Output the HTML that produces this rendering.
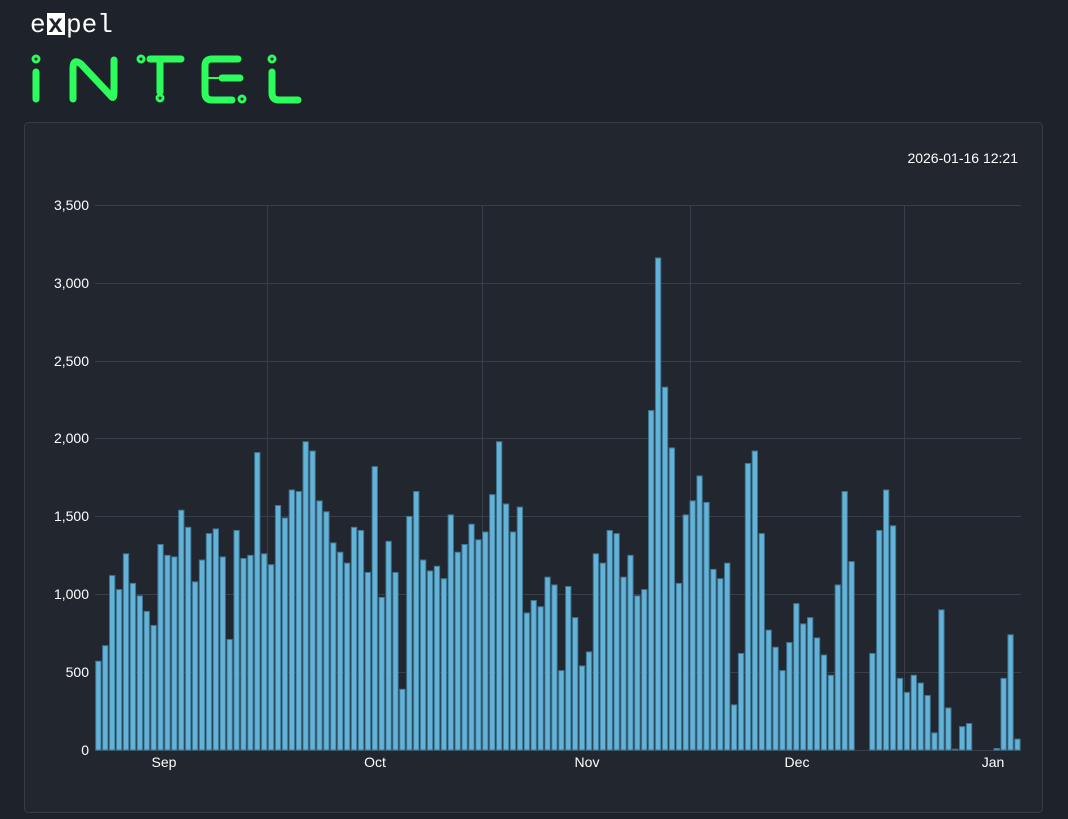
<!DOCTYPE html>
<html><head><meta charset="utf-8"><style>
body{margin:0;background:#1e222a;width:1068px;height:819px;overflow:hidden;font-family:"Liberation Sans",sans-serif;}
</style></head><body>
<svg width="1068" height="819" xmlns="http://www.w3.org/2000/svg" style="position:absolute;left:0;top:0">
<text x="30" y="32" fill="#fff" font-family="Liberation Mono, monospace" font-size="26">e</text>
<rect x="47" y="13" width="18" height="22" fill="#fff"/>
<text x="48" y="32" fill="#1e222a" font-family="Liberation Mono, monospace" font-size="25" font-weight="bold">x</text>
<text x="66" y="32" fill="#fff" font-family="Liberation Mono, monospace" font-size="26">pel</text>
<g stroke="#2cfc5c" stroke-width="7" stroke-linecap="round" fill="none">
<circle cx="36" cy="59" r="3" stroke-width="3"/>
<line x1="36" y1="72" x2="36" y2="99"/>
<path d="M73 99 V68 Q73 58 81 64 L111 96 Q114 100 114 92 V60"/>
<circle cx="141" cy="59" r="3" stroke-width="3"/>
<line x1="150" y1="59" x2="181" y2="59"/>
<line x1="160" y1="59" x2="160" y2="92"/>
<circle cx="160" cy="98" r="3" stroke-width="3"/>
<path d="M238 59 H212 Q205 59 205 66 V93 Q205 100 212 100 H232"/>
<line x1="222" y1="78" x2="240" y2="78"/>
<line x1="205" y1="78" x2="218" y2="78" stroke-width="2"/>
<circle cx="242" cy="99" r="3" stroke-width="3"/>
<circle cx="272" cy="59" r="3" stroke-width="3"/>
<path d="M272 72 V93 Q272 100 279 100 H298"/>
</g>
<rect x="24.5" y="122.5" width="1018" height="690" rx="4" fill="#22262f" stroke="#383c45"/>
<text x="1018" y="163" fill="#fff" font-size="14" text-anchor="end">2026-01-16 12:21</text>
<g stroke="#3a3e48" stroke-width="1">
<line x1="95" x2="1021" y1="205.5" y2="205.5"/><line x1="95" x2="1021" y1="283.5" y2="283.5"/>
<line x1="95" x2="1021" y1="361.5" y2="361.5"/><line x1="95" x2="1021" y1="438.5" y2="438.5"/>
<line x1="95" x2="1021" y1="516.5" y2="516.5"/><line x1="95" x2="1021" y1="594.5" y2="594.5"/>
<line x1="95" x2="1021" y1="672.5" y2="672.5"/><line x1="95" x2="1021" y1="750.5" y2="750.5"/>
<line x1="267.5" x2="267.5" y1="205" y2="750"/><line x1="482.5" x2="482.5" y1="205" y2="750"/>
<line x1="690.5" x2="690.5" y1="205" y2="750"/><line x1="904.5" x2="904.5" y1="205" y2="750"/>
</g>
<g fill="#fff" font-size="14" text-anchor="end">
<text x="89" y="210">3,500</text><text x="89" y="288">3,000</text><text x="89" y="366">2,500</text>
<text x="89" y="443">2,000</text><text x="89" y="521">1,500</text><text x="89" y="599">1,000</text>
<text x="89" y="677">500</text><text x="89" y="755">0</text>
</g>
<g fill="#fff" font-size="14" text-anchor="middle">
<text x="164" y="767">Sep</text><text x="375" y="767">Oct</text><text x="587" y="767">Nov</text>
<text x="797" y="767">Dec</text><text x="993" y="767">Jan</text>
</g>
<g id="bars" fill="#63b3d8" stroke="#3f7592" stroke-width="1"></g>
</svg>
<script>
var v=[570,670,1120,1030,1260,1070,990,890,800,1320,1250,1240,1540,1430,1080,1220,1390,1420,1240,710,1410,1230,1250,1910,1260,1190,1570,1490,1670,1660,1980,1920,1600,1530,1330,1270,1200,1430,1410,1140,1820,980,1340,1140,390,1500,1660,1220,1150,1180,1100,1510,1270,1320,1450,1350,1400,1640,1980,1580,1400,1560,880,960,920,1110,1060,510,1050,850,540,630,1260,1200,1410,1390,1110,1250,990,1030,2180,3160,2330,1940,1070,1510,1600,1760,1590,1160,1100,1200,290,620,1840,1920,1390,770,660,510,690,940,810,850,720,610,480,1060,1660,1210,0,0,620,1410,1670,1440,460,370,480,430,350,110,900,270,5,150,170,0,0,0,10,460,740,70];
var g=document.getElementById('bars'),s='',p=926/134;
for(var i=0;i<v.length;i++){if(!v[i])continue;var h=v[i]*545/3500;var x=95+i*p+0.7;
s+='<rect x="'+x.toFixed(2)+'" y="'+(750-h).toFixed(2)+'" width="'+(p-1.6).toFixed(2)+'" height="'+h.toFixed(2)+'"/>';}
g.innerHTML=s;
</script>
</body></html>
